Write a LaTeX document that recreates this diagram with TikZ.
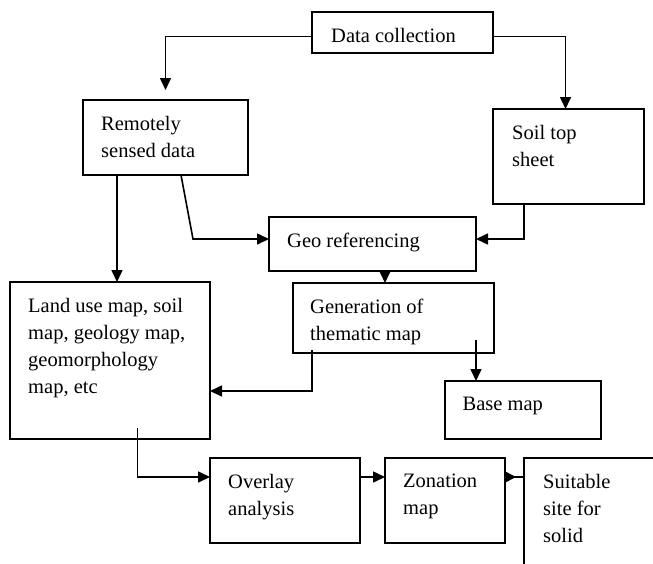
\documentclass[tikz,border=0pt]{standalone}
\usepackage{fontspec}
\setmainfont{Liberation Serif}
\usetikzlibrary{arrows.meta}

\begin{document}
\begin{tikzpicture}[x=1pt, y=-1pt,
    box/.style={draw, line width=1.6pt, inner sep=0pt, outer sep=0pt, anchor=north west},
    lbl/.style={anchor=north west, inner sep=0pt, align=left, font=\fontsize{20.5}{27}\selectfont},
    arr/.style={-{Triangle[length=12pt,width=11pt]}, line width=1.6pt},
    rarr/.style={{Triangle[length=11pt,width=11pt,reversed]}-, line width=1.6pt}]
    \clip (0,0) rectangle (653,563);

    % Boxes
    \node[box, minimum width=181pt, minimum height=41pt] (dc) at (312,12) {};
    \node[box, minimum width=165pt, minimum height=75pt] (rs) at (83,100) {};
    \node[box, minimum width=151pt, minimum height=95pt] (st) at (493,109) {};
    \node[box, minimum width=207pt, minimum height=54pt] (geo) at (269,217) {};
    \node[box, minimum width=200pt, minimum height=157pt] (lu) at (10,282) {};
    \node[box, minimum width=201pt, minimum height=70pt] (gen) at (293,283) {};
    \node[box, minimum width=156pt, minimum height=58pt] (bm) at (445,381) {};
    \node[box, minimum width=150pt, minimum height=85pt] (ov) at (210,458) {};
    \node[box, minimum width=120pt, minimum height=85pt] (zm) at (385,458) {};
    \node[box, minimum width=180pt, minimum height=160pt] (ss) at (524,458) {};

    % Box texts
    \node[lbl] (dc-t) at ([xshift=19pt,yshift=-16pt]dc.north west) {Data collection};
    \node[lbl] (rs-t) at ([xshift=18pt,yshift=-16pt]rs.north west) {Remotely\\sensed data};
    \node[lbl] (st-t) at ([xshift=19pt,yshift=-16pt]st.north west) {Soil top\\sheet};
    \node[lbl] (geo-t) at ([xshift=18pt,yshift=-16pt]geo.north west) {Geo referencing};
    \node[lbl] (lu-t) at ([xshift=18pt,yshift=-16pt]lu.north west) {Land use map, soil\\map, geology map,\\geomorphology\\map, etc};
    \node[lbl] (gen-t) at ([xshift=17pt,yshift=-16pt]gen.north west) {Generation of\\thematic map};
    \node[lbl] (bm-t) at ([xshift=17.5pt,yshift=-16pt]bm.north west) {Base map};
    \node[lbl] (ov-t) at ([xshift=18pt,yshift=-16pt]ov.north west) {Overlay\\analysis};
    \node[lbl] (zm-t) at ([xshift=18pt,yshift=-16pt]zm.north west) {Zonation\\map};
    \node[lbl] (ss-t) at ([xshift=19pt,yshift=-16pt]ss.north west) {Suitable\\site for\\solid};

    % Connectors
    \draw[arr] ([yshift=-4pt]dc.west) -| ([yshift=10pt]rs.north);
    \draw[arr] ([yshift=-4pt]dc.east) -| ([xshift=-3pt]st.north);
    \draw[arr] ([xshift=15.5pt]rs.south) -- ([xshift=-76pt,yshift=5pt]geo.west) -- ([yshift=5pt]geo.west);
    \draw[arr] ([xshift=-44.5pt]st.south) |- ([yshift=5pt]geo.east);
    \draw[arr] ([xshift=-48.5pt]rs.south) -- ([xshift=-48.5pt]rs.south |- lu.north);
    \draw[arr] ([xshift=-8.5pt]gen.north |- geo.south) -- ([xshift=-8.5pt]gen.north);
    \draw[arr] ([xshift=19pt,yshift=3pt]gen.south west) |- ([yshift=-30.5pt]lu.east);
    \draw[arr] ([xshift=-18pt,yshift=13pt]gen.south east) -- ([xshift=-18pt]gen.south east |- bm.north);
    \draw[arr] ([xshift=27.5pt,yshift=11pt]lu.south) |- ([yshift=23.5pt]ov.west);
    \draw[arr] ([yshift=23.5pt]ov.east) -- ([yshift=23.5pt]zm.west);
    \draw[rarr] ([yshift=23.5pt]zm.east) -- ([yshift=23.5pt]zm.east -| ss.west);
\end{tikzpicture}
\end{document}
